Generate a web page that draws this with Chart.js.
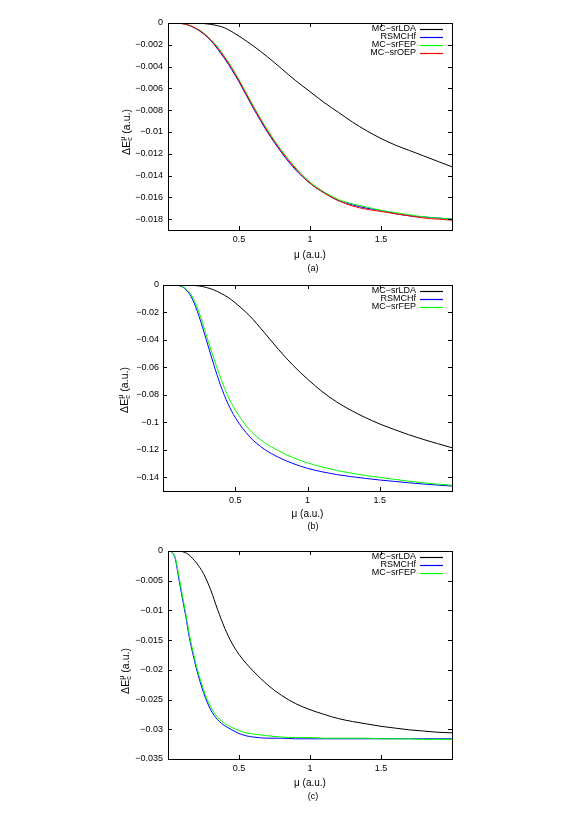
<!DOCTYPE html>
<html>
<head>
<meta charset="utf-8">
<script src="https://cdn.jsdelivr.net/npm/chart.js@4.4.1/dist/chart.umd.min.js"></script>
<style>
  body { margin: 0; background: #fff; }
  #wrap { position: relative; width: 581px; height: 823px; }
  canvas { position: absolute; left: 0; }
</style>
</head>
<body>
<div id="wrap">
  <canvas id="chartA" width="581" height="275" style="top:0px"></canvas>
  <canvas id="chartB" width="581" height="265" style="top:275px"></canvas>
  <canvas id="chartC" width="581" height="288" style="top:535px"></canvas>
</div>
<script>
// series names
var labelLDA = "MC\u2212srLDA";
var labelRS = "RSMCHf";
var labelFEP = "MC\u2212srFEP";
var labelOEP = "MC\u2212srOEP";

var xTicks = [0.5, 1, 1.5];

// (a)
var muA = [0, 0.1, 0.2, 0.25, 0.3, 0.35, 0.4, 0.45, 0.5, 0.6, 0.7, 0.8, 0.9, 1.0, 1.1, 1.2, 1.3, 1.4, 1.5, 1.6, 1.7, 1.8, 1.9, 2.0];
var ldaA = [0, 0, -0.00002, -0.00005, -0.00012, -0.00025, -0.00045, -0.0008, -0.0012, -0.0021, -0.0031, -0.0042, -0.0053, -0.0063, -0.0073, -0.0082, -0.0091, -0.0099, -0.0106, -0.0112, -0.0117, -0.0122, -0.0127, -0.0132];
var rsA = [0, -0.00006, -0.00055, -0.001, -0.0016, -0.0024, -0.0033, -0.0043, -0.0054, -0.0078, -0.0100, -0.0119, -0.0135, -0.0147, -0.0156, -0.0163, -0.0167, -0.0170, -0.0172, -0.0175, -0.0177, -0.0178, -0.0179, -0.0180];
var fepA = [0, -0.00005, -0.0005, -0.0009, -0.0015, -0.0022, -0.0031, -0.0041, -0.0052, -0.0076, -0.0098, -0.0117, -0.0133, -0.0146, -0.0155, -0.0162, -0.0166, -0.0169, -0.0172, -0.0174, -0.0176, -0.0178, -0.0179, -0.0180];
var oepA = [0, -0.00005, -0.0005, -0.00095, -0.00155, -0.0023, -0.0032, -0.0042, -0.0053, -0.0077, -0.0099, -0.0118, -0.0134, -0.0147, -0.0156, -0.0163, -0.0168, -0.0171, -0.0173, -0.0175, -0.0177, -0.0179, -0.0180, -0.0181];
var yTicksA = [0, -0.002, -0.004, -0.006, -0.008, -0.01, -0.012, -0.014, -0.016, -0.018];

// (b)
var muB = [0, 0.05, 0.1, 0.15, 0.2, 0.25, 0.3, 0.35, 0.4, 0.45, 0.5, 0.6, 0.7, 0.8, 0.9, 1.0, 1.1, 1.2, 1.3, 1.4, 1.5, 1.6, 1.7, 1.8, 1.9, 2.0];
var ldaB = [0, 0, 0, -0.00005, -0.0002, -0.0007, -0.0018, -0.0035, -0.006, -0.009, -0.013, -0.0225, -0.0345, -0.047, -0.0585, -0.0685, -0.0775, -0.0850, -0.0912, -0.0965, -0.1012, -0.1052, -0.1090, -0.1124, -0.1155, -0.1185];
var rsB = [0, 0, -0.0003, -0.0025, -0.0095, -0.023, -0.040, -0.0575, -0.0735, -0.0865, -0.0965, -0.1105, -0.1195, -0.1255, -0.1300, -0.1335, -0.1360, -0.1380, -0.1395, -0.1408, -0.1420, -0.1430, -0.1440, -0.1449, -0.1457, -0.1464];
var fepB = [0, 0, -0.0002, -0.002, -0.008, -0.020, -0.0365, -0.053, -0.068, -0.081, -0.091, -0.1055, -0.1145, -0.1208, -0.1257, -0.1295, -0.1325, -0.1350, -0.1370, -0.1387, -0.1401, -0.1415, -0.1428, -0.1440, -0.1450, -0.1458];
var yTicksB = [0, -0.02, -0.04, -0.06, -0.08, -0.1, -0.12, -0.14];

// (c)
var muC = [0, 0.025, 0.05, 0.075, 0.1, 0.125, 0.15, 0.175, 0.2, 0.25, 0.3, 0.35, 0.4, 0.45, 0.5, 0.55, 0.6, 0.7, 0.8, 0.9, 1.0, 1.1, 1.2, 1.3, 1.4, 1.5, 1.6, 1.7, 1.8, 1.9, 2.0];
var ldaC = [0, 0, 0, -0.00002, -0.0001, -0.0003, -0.0007, -0.0013, -0.002, -0.0038, -0.0065, -0.0099, -0.0130, -0.0155, -0.0174, -0.0189, -0.0202, -0.0225, -0.0243, -0.0257, -0.0267, -0.0275, -0.0282, -0.0287, -0.0291, -0.0295, -0.0298, -0.0301, -0.0303, -0.0305, -0.0306];
var rsC = [0, -0.0002, -0.0012, -0.0045, -0.0078, -0.0110, -0.0145, -0.0173, -0.0198, -0.0238, -0.0267, -0.0284, -0.0294, -0.0301, -0.0307, -0.0311, -0.0313, -0.0315, -0.0315, -0.0316, -0.0316, -0.0316, -0.0316, -0.0316, -0.0316, -0.0316, -0.0316, -0.0316, -0.0316, -0.0316, -0.0316];
var fepC = [0, -0.0002, -0.001, -0.004, -0.0073, -0.0105, -0.014, -0.0168, -0.0193, -0.0233, -0.0262, -0.0280, -0.0290, -0.0297, -0.0302, -0.0306, -0.0308, -0.0311, -0.0313, -0.0314, -0.0314, -0.0315, -0.0315, -0.0315, -0.0315, -0.0316, -0.0316, -0.0316, -0.0317, -0.0317, -0.0317];
var yTicksC = [0, -0.005, -0.01, -0.015, -0.02, -0.025, -0.03, -0.035];

var FONT = "'Liberation Sans', Arial, sans-serif";

function pts(xs, ys) {
    return xs.map(function (x, i) { return {x: x, y: ys[i]}; });
}

function fmt(v) {
    var n = Number(v.toFixed(6));
    return n === 0 ? "0" : String(n).replace("-", "\u2212");
}

// frame, inner ticks, legend, y title and caption
var decor = {
    id: "decor",
    afterDraw: function (chart, args, o) {
        var ctx = chart.ctx, a = chart.chartArea;
        var xs = chart.scales.x, ys = chart.scales.y;
        ctx.save();
        ctx.strokeStyle = "#000";
        ctx.lineWidth = 1;
        ctx.strokeRect(Math.round(a.left) + 0.5, Math.round(a.top) + 0.5,
            Math.round(a.right - a.left), Math.round(a.bottom - a.top));
        ctx.beginPath();
        xs.ticks.forEach(function (t) {
            var px = Math.round(xs.getPixelForValue(t.value)) + 0.5;
            ctx.moveTo(px, a.bottom); ctx.lineTo(px, a.bottom - 4);
            ctx.moveTo(px, a.top); ctx.lineTo(px, a.top + 4);
        });
        ys.ticks.forEach(function (t) {
            var py = Math.round(ys.getPixelForValue(t.value)) + 0.5;
            ctx.moveTo(a.left, py); ctx.lineTo(a.left + 4, py);
            ctx.moveTo(a.right, py); ctx.lineTo(a.right - 4, py);
        });
        ctx.stroke();

        // legend
        ctx.font = "9px " + FONT;
        ctx.textAlign = "right";
        ctx.textBaseline = "middle";
        ctx.fillStyle = "#000";
        chart.data.datasets.forEach(function (d, i) {
            var y = a.top + 5.5 + i * 8;
            ctx.fillText(d.label, a.right - 36, y);
            ctx.strokeStyle = d.borderColor;
            ctx.lineWidth = 1.2;
            ctx.beginPath();
            ctx.moveTo(a.right - 32, Math.round(y) + 0.5);
            ctx.lineTo(a.right - 9, Math.round(y) + 0.5);
            ctx.stroke();
        });

        // y title: ΔE_c^μ (a.u.)
        ctx.translate(o.yTitleX, o.yTitleY);
        ctx.rotate(-Math.PI / 2);
        ctx.fillStyle = "#000";
        ctx.textAlign = "left";
        ctx.textBaseline = "middle";
        var big = "10.5px " + FONT, small = "7.5px " + FONT;
        ctx.font = big;
        var w1 = ctx.measureText("\u0394E").width;
        var w3 = ctx.measureText(" (a.u.)").width;
        ctx.font = small;
        var w2 = Math.max(ctx.measureText("c").width, ctx.measureText("\u03bc").width);
        var x0 = -(w1 + w2 + w3) / 2;
        ctx.font = big;
        ctx.fillText("\u0394E", x0, 0);
        ctx.font = small;
        ctx.fillText("c", x0 + w1, 3);
        ctx.fillText("\u03bc", x0 + w1, -4);
        ctx.font = big;
        ctx.fillText(" (a.u.)", x0 + w1 + w2, 0);
        ctx.restore();

        // caption
        ctx.save();
        ctx.font = "9px " + FONT;
        ctx.fillStyle = "#000";
        ctx.textAlign = "center";
        ctx.textBaseline = "middle";
        ctx.fillText(o.caption, o.capX, o.capY);
        ctx.restore();
    }
};

function makeChart(id, xs, series, yTicks, yMin, L) {
    var datasets = series.map(function (s, i) {
        return {
            label: s[0],
            data: pts(xs, s[1]),
            borderColor: s[2],
            borderWidth: 1,
            pointRadius: 0,
            fill: false,
            cubicInterpolationMode: "monotone",
            order: series.length - i
        };
    });
    return new Chart(document.getElementById(id).getContext("2d"), {
        type: "line",
        data: {datasets: datasets},
        plugins: [decor],
        options: {
            responsive: false,
            animation: false,
            devicePixelRatio: 1,
            layout: {padding: {top: L.padTop, right: L.padRight, bottom: L.padBottom, left: 0}},
            plugins: {
                legend: {display: false},
                tooltip: {enabled: false},
                decor: {caption: L.caption, capX: 313, capY: L.capY, yTitleX: L.yTitleX, yTitleY: L.yTitleY}
            },
            scales: {
                x: {
                    type: "linear",
                    min: 0,
                    max: 2,
                    grid: {display: false, drawTicks: false},
                    border: {display: false},
                    afterBuildTicks: function (s) { s.ticks = xTicks.map(function (v) { return {value: v}; }); },
                    afterFit: function (s) { s.height = L.xHeight; },
                    ticks: {color: "#000", font: {family: FONT, size: 9}, padding: 4, maxRotation: 0,
                        callback: function (v) { return fmt(v); }},
                    title: {display: true, text: "\u03bc (a.u.)", color: "#000",
                        font: {family: FONT, size: 10}, padding: 0}
                },
                y: {
                    type: "linear",
                    min: yMin,
                    max: 0,
                    grid: {display: false, drawTicks: false},
                    border: {display: false},
                    afterBuildTicks: function (s) { s.ticks = yTicks.map(function (v) { return {value: v}; }); },
                    afterFit: function (s) { s.width = L.yWidth; },
                    ticks: {color: "#000", font: {family: FONT, size: 9}, padding: L.yPad,
                        callback: function (v) { return fmt(v); }}
                }
            }
        }
    });
}

makeChart("chartA", muA, [
    [labelLDA, ldaA, "#000000"],
    [labelRS, rsA, "#0000ff"],
    [labelFEP, fepA, "#00ff00"],
    [labelOEP, oepA, "#ff0000"]
], yTicksA, -0.019, {padTop: 23, padRight: 129, padBottom: 14, xHeight: 31, yWidth: 168, yPad: 5,
    caption: "(a)", capY: 268.5, yTitleX: 127, yTitleY: 132});

makeChart("chartB", muB, [
    [labelLDA, ldaB, "#000000"],
    [labelRS, rsB, "#0000ff"],
    [labelFEP, fepB, "#00ff00"]
], yTicksB, -0.15, {padTop: 10, padRight: 129, padBottom: 20, xHeight: 29, yWidth: 163, yPad: 4,
    caption: "(b)", capY: 252, yTitleX: 125, yTitleY: 115});

makeChart("chartC", muC, [
    [labelLDA, ldaC, "#000000"],
    [labelRS, rsC, "#0000ff"],
    [labelFEP, fepC, "#00ff00"]
], yTicksC, -0.035, {padTop: 16, padRight: 129, padBottom: 34, xHeight: 30, yWidth: 168, yPad: 5,
    caption: "(c)", capY: 262, yTitleX: 126, yTitleY: 136});
</script>
</body>
</html>
